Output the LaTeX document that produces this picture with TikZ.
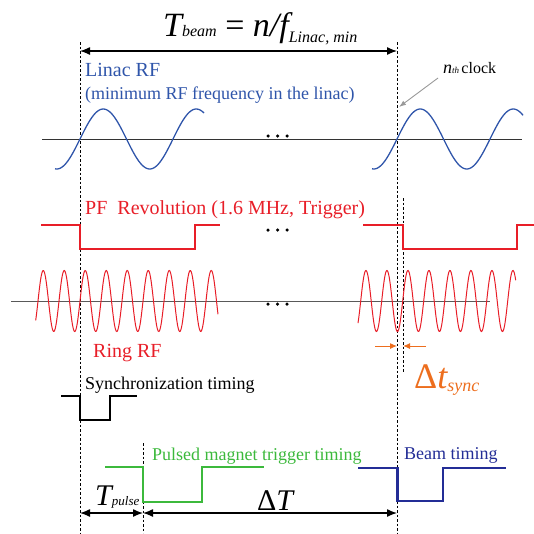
\documentclass[tikz,border=0pt]{standalone}
\usepackage{fontspec}
\setmainfont{Liberation Serif}
\usetikzlibrary{arrows.meta}

\definecolor{linacblue}{RGB}{47,85,170}
\definecolor{ringred}{RGB}{232,30,40}
\definecolor{syncorange}{RGB}{237,110,30}
\definecolor{pulsegreen}{RGB}{60,185,60}
\definecolor{beamblue}{RGB}{35,45,150}

\newcommand{\fsz}[1]{\fontsize{#1}{#1}\selectfont}

\tikzset{
	guide/.style={line width=0.9pt,dash pattern=on 2.5pt off 2pt},
	axisline/.style={line width=1pt,black!65},
	pulseline/.style={line width=2.2pt,line join=miter},
	dim/.style={{Latex[length=10pt,width=8pt]}-{Latex[length=10pt,width=8pt]},line width=1.3pt},
	dotmark/.style={circle,fill,inner sep=0pt,minimum size=3.5pt},
	lbl/.style={anchor=base west,inner sep=0pt},
}

\begin{document}
\begin{tikzpicture}[x=1pt,y=-1pt]
	\useasboundingbox (0,0) rectangle (534,533);

	% Time markers
	\coordinate (tA) at (80,42);   \coordinate (tAend) at (80,533);
	\coordinate (tN) at (397,42);  \coordinate (tNend) at (397,533);
	\coordinate (tR) at (403,198); \coordinate (tRend) at (403,372);
	\coordinate (tP) at (143,443); \coordinate (tPend) at (143,533);
	\draw[guide] (tA) -- (tAend);
	\draw[guide] (tN) -- (tNend);
	\draw[guide] (tR) -- (tRend);
	\draw[guide] (tP) -- (tPend);

	% Beam period
	\coordinate (beamL) at (80,51); \coordinate (beamR) at (397,51);
	\draw[dim] (beamL) -- (beamR);
	\node[lbl] (tbeam) at (163,36) {\fsz{34}\itshape T\fsz{16}beam\fsz{34}\upshape\ = \itshape n/f\raisebox{-6.5pt}{\fsz{16}Linac, min}};

	% Linac RF
	\node[lbl,linacblue] (linac) at (85,76) {\fsz{20}Linac RF};
	\node[lbl,linacblue] (linacnote) at (85,99) {\fsz{18}(minimum RF frequency in the linac)};
	\coordinate (linW) at (42,139); \coordinate (linE) at (522,139);
	\draw[axisline,black!80] (linW) -- (linE);
	\draw[samples=120,domain=55:204,smooth,variable=\x,linacblue,line width=1.3pt] plot ({\x},{139-30*sin(360/93*(\x-80))});
	\draw[samples=120,domain=372:523,smooth,variable=\x,linacblue,line width=1.3pt] plot ({\x},{139-30*sin(360/93*(\x-397))});

	% n-th clock
	\node[lbl] (clock) at (443,73) {\fsz{18}\itshape n\fsz{9}th\ \upshape\fsz{16}clock};
	\coordinate (clkTail) at (438,78); \coordinate (clkTip) at (399,107);
	\draw[-{Latex[length=7pt,width=5pt]},black!40,line width=0.9pt] (clkTail) -- (clkTip);

	% PF revolution
	\node[lbl,ringred] (pfrev) at (85,214) {\fsz{20}PF\ \ Revolution (1.6 MHz, Trigger)};
	\draw[pulseline,ringred] (41,225) -- (80,225) -- (80,249) -- (195,249) -- (195,225) -- (220,225);
	\draw[pulseline,ringred] (363,225) -- (403,225) -- (403,249) -- (517,249) -- (517,225) -- (534,225);

	% Ring RF
	\coordinate (ringW) at (11,301); \coordinate (ringE) at (490,301);
	\draw[axisline] (ringW) -- (ringE);
	\draw[samples=300,domain=35.7:218,smooth,variable=\x,ringred,line width=1pt] plot ({\x},{301-30.5*sin(360/21*(\x-80))});
	\draw[samples=300,domain=358:515.7,smooth,variable=\x,ringred,line width=1pt] plot ({\x},{301-30.5*sin(360/21*(\x-402.7))});
	\node[lbl,ringred] (ring) at (93,357) {\fsz{20}Ring RF};

	% Dots
	\foreach \y/\nm in {136/l,230/p,304/r}
		\foreach \x [count=\i] in {268,277.5,287}
			\node[dotmark] (dot\nm\i) at (\x,\y) {};

	% Sync offset
	\coordinate (dsL) at (375,346); \coordinate (dsR) at (426,346);
	\coordinate (dsA) at (397,346); \coordinate (dsB) at (403,346);
	\draw[-{Latex[length=7pt,width=6pt]},syncorange,line width=1pt] (dsL) -- (dsA);
	\draw[-{Latex[length=7pt,width=6pt]},syncorange,line width=1pt] (dsR) -- (dsB);
	\node[lbl,syncorange] (dtsync) at (414,388) {\fsz{36}\upshape Δ\itshape t\raisebox{-3pt}{\fsz{18}sync}};

	% Synchronization timing
	\node[lbl] (sync) at (85,389) {\fsz{18}Synchronization timing};
	\draw[pulseline,line width=2pt] (61,396) -- (80,396) -- (80,420) -- (110,420) -- (110,396) -- (137,396);

	% Pulsed magnet trigger
	\node[lbl,pulsegreen] (magnet) at (152,460.5) {\fsz{18}Pulsed magnet trigger timing};
	\draw[pulseline,pulsegreen] (105,467) -- (143,467) -- (143,502) -- (202,502) -- (202,467) -- (264,467);

	% Beam timing
	\node[lbl,beamblue] (beam) at (404,459) {\fsz{18}Beam timing};
	\draw[pulseline,beamblue] (358,468) -- (397.5,468) -- (397.5,501) -- (443,501) -- (443,468) -- (506,468);

	% Delays
	\coordinate (dA) at (80,513); \coordinate (dP) at (143,513); \coordinate (dN) at (397,513);
	\draw[dim] (dA) -- (dP);
	\draw[dim] (dP) -- (dN);
	\node[lbl] (tpulse) at (95,505) {\fsz{30}\itshape T\fsz{13}pulse};
	\node[lbl] (dT) at (257,510) {\fsz{30}Δ\itshape T};
\end{tikzpicture}
\end{document}
